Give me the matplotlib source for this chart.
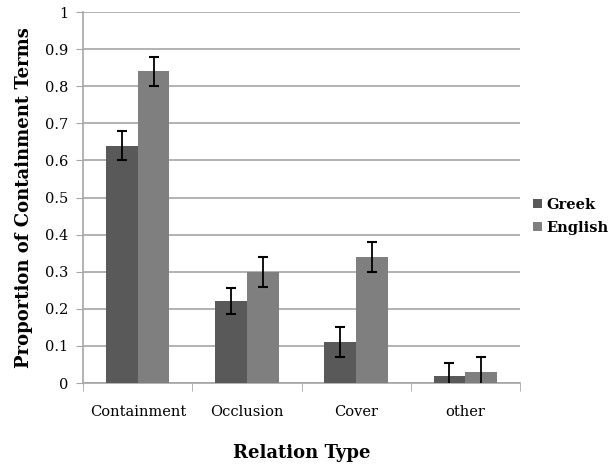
import matplotlib
matplotlib.use("Agg")
import matplotlib.pyplot as plt
import numpy as np

categories = ["Containment", "Occlusion", "Cover", "other"]
greek = [0.64, 0.22, 0.11, 0.02]
english = [0.84, 0.30, 0.34, 0.03]
greek_err = [0.04, 0.035, 0.04, 0.035]
english_err = [0.04, 0.04, 0.04, 0.04]
yticks = [0, 0.1, 0.2, 0.3, 0.4, 0.5, 0.6, 0.7, 0.8, 0.9, 1]
ytick_labels = ["0", "0.1", "0.2", "0.3", "0.4", "0.5", "0.6", "0.7", "0.8", "0.9", "1"]

plt.rcParams['font.family'] = ['DejaVu Serif', 'Liberation Serif']

fig = plt.figure(figsize=(6.16, 4.66), dpi=100)
ax = fig.add_axes([0.135, 0.178, 0.709, 0.796])

x = np.arange(len(categories))
w = 0.29
grid_c = "#a6a6a6"
ekw = dict(ecolor="black", elinewidth=1.3, capsize=3.5, capthick=1.5, zorder=4)
ax.bar(x - w/2, greek, w, color="#595959", label="Greek", zorder=3, yerr=greek_err, error_kw=ekw)
ax.bar(x + w/2, english, w, color="#7f7f7f", label="English", zorder=3, yerr=english_err, error_kw=ekw)

ax.set_xlim(-0.5, len(categories) - 0.5)
ax.set_ylim(0, 1)
ax.set_yticks(yticks)
ax.set_yticklabels(ytick_labels, fontsize=10.5)
ax.set_xticks(x)
ax.set_xticklabels(categories, fontsize=10.5)
ax.tick_params(axis="x", length=0, pad=16)
ax.set_xticks(np.arange(-0.5, len(categories) + 0.5, 1), minor=True)
ax.tick_params(axis="x", which="minor", length=6, color=grid_c)
ax.tick_params(axis="y", length=5, color=grid_c, pad=6)
ax.yaxis.grid(True, color=grid_c, linewidth=1.2, zorder=0)
for s in ["top", "right"]:
    ax.spines[s].set_visible(False)
ax.spines["left"].set_color(grid_c)
ax.spines["bottom"].set_color(grid_c)
ax.spines["left"].set_linewidth(1.2)
ax.spines["bottom"].set_linewidth(1.2)

ax.set_ylabel("Proportion of Containment Terms", fontsize=13, fontweight="bold", labelpad=8)
ax.set_xlabel("Relation Type", fontsize=13, fontweight="bold", labelpad=18)

ax.legend(loc="center left", bbox_to_anchor=(1.0, 0.45), frameon=False,
          prop=dict(size=10.5, weight="bold"), handlelength=0.6, handleheight=0.6,
          handletextpad=0.3, labelspacing=0.6)

fig.savefig("out.png", dpi=100)
